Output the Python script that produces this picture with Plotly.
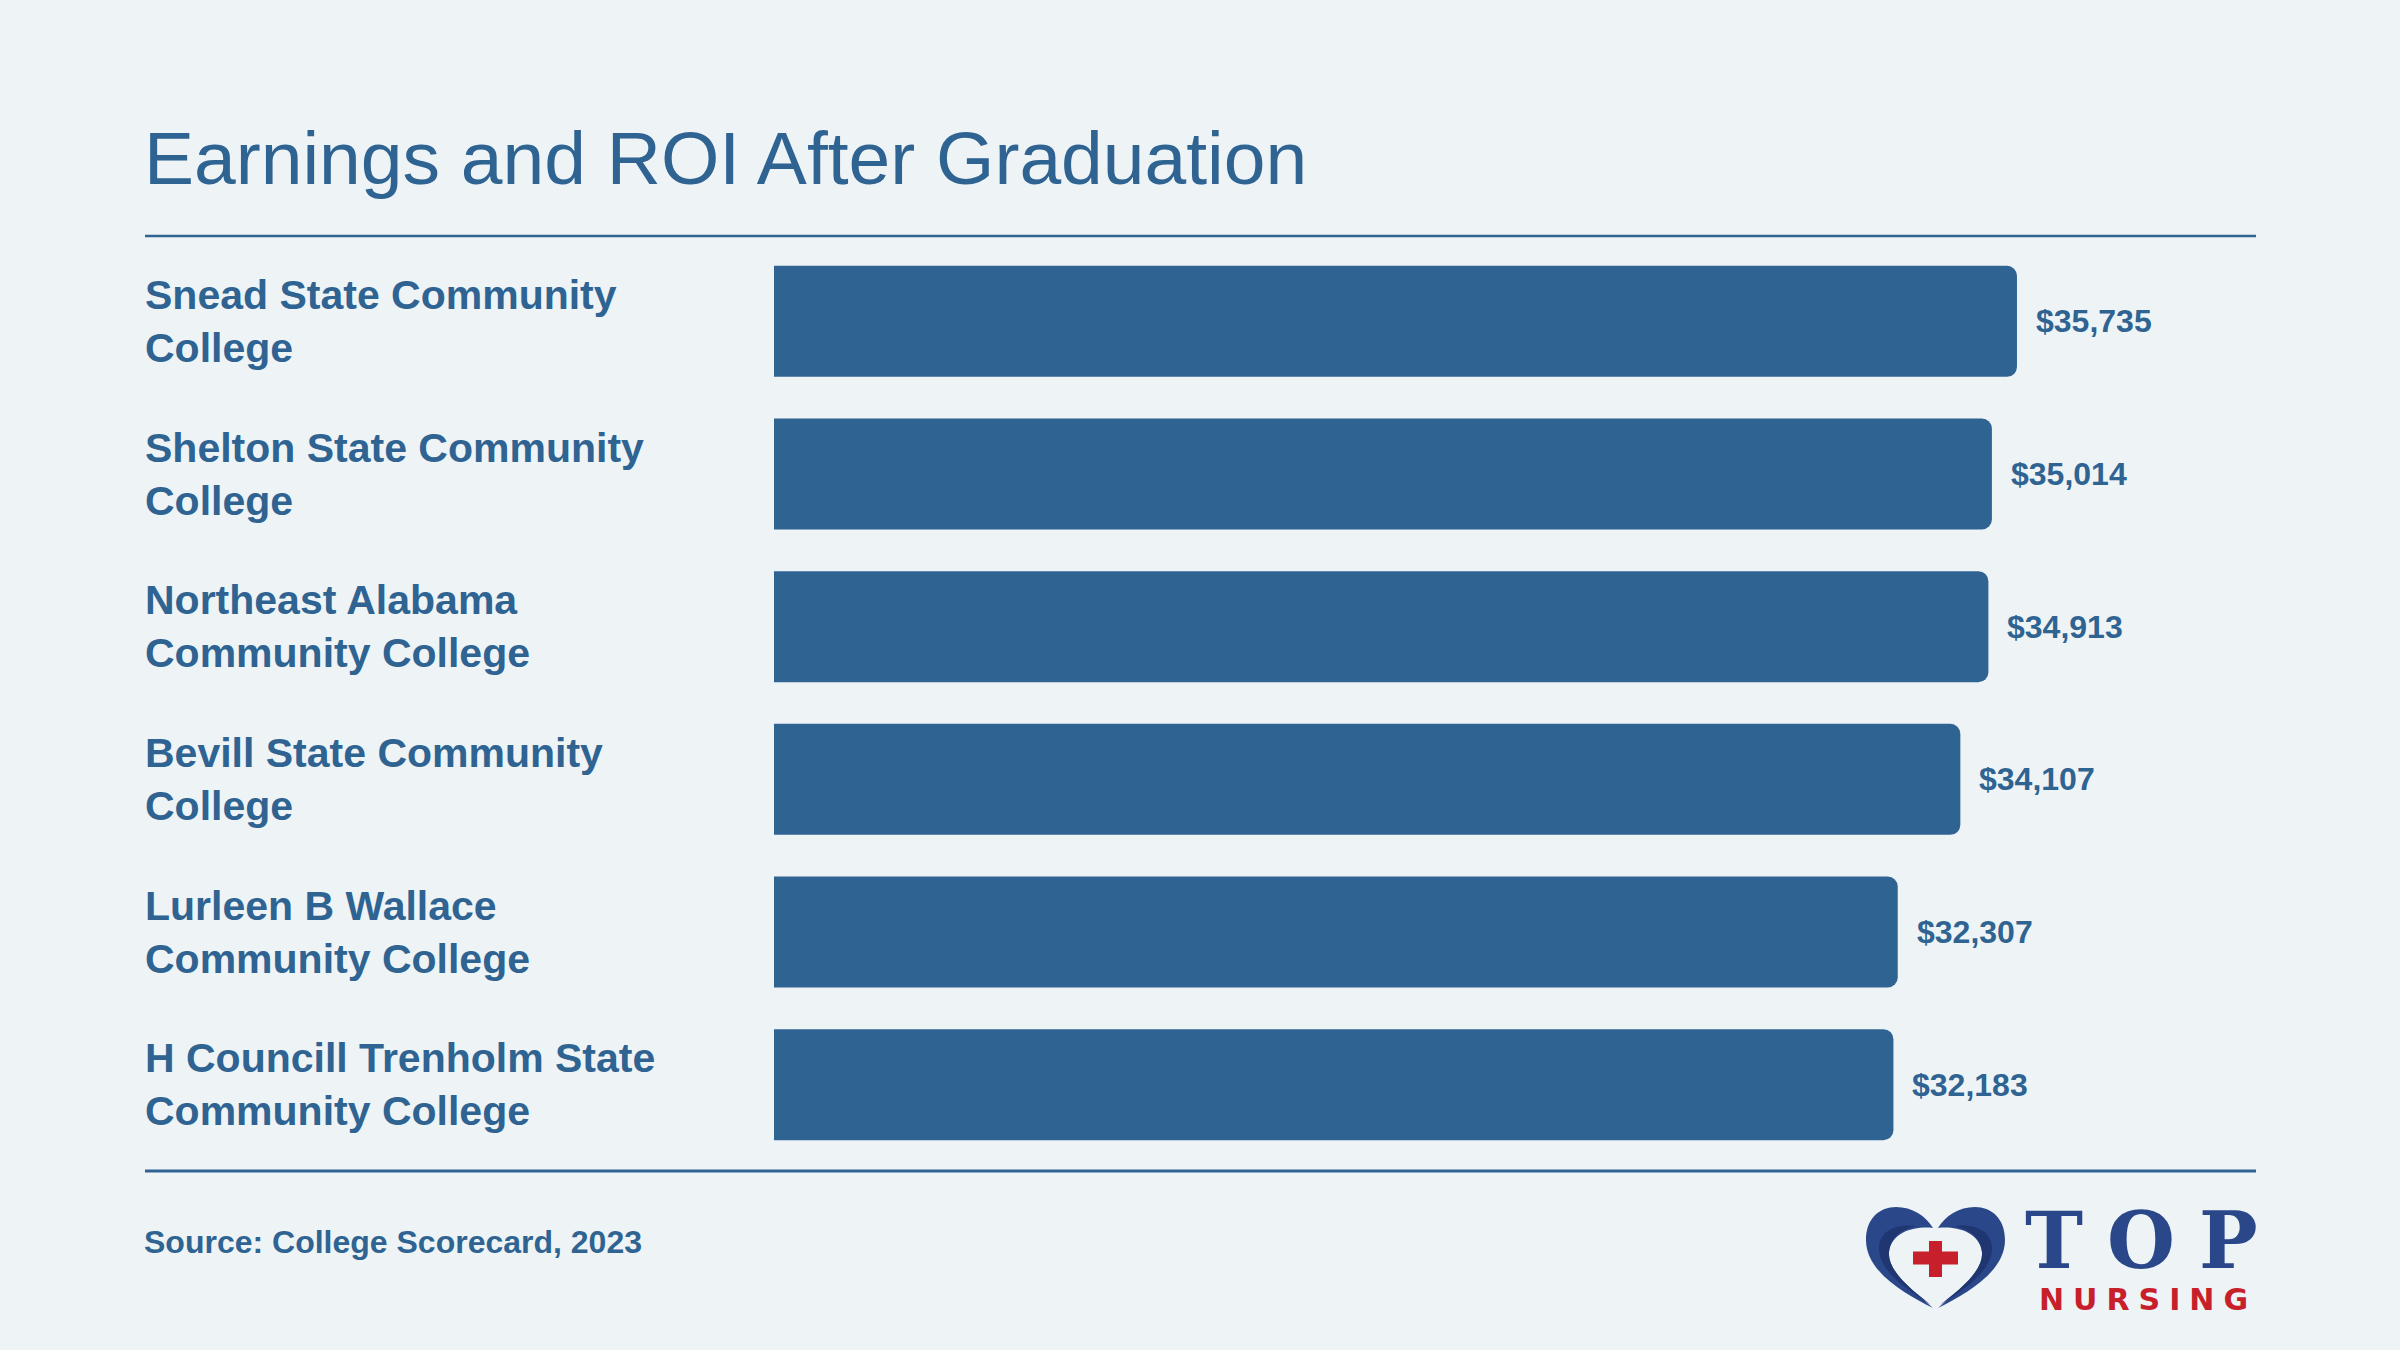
import plotly.graph_objects as go

# ---------------- data ----------------
colleges = [
    "Snead State Community<br>College",
    "Shelton State Community<br>College",
    "Northeast Alabama<br>Community College",
    "Bevill State Community<br>College",
    "Lurleen B Wallace<br>Community College",
    "H Councill Trenholm State<br>Community College",
]
earnings = [35735, 35014, 34913, 34107, 32307, 32183]
title_text = "Earnings and ROI After Graduation"
source_text = "Source: College Scorecard, 2023"

# ---------------- style ----------------
BLUE = "#2E6392"
BG = "#EEF3F6"
NAVY = "#2A478A"
NAVY_DARK = "#1F3670"
RED = "#C8202A"
W, H = 2400, 1350
ML, MR, MT, MB = 774, 144, 245, 189
PW, PH = W - ML - MR, H - MT - MB
X_MAX = 42607


def px(x):
    return (x - ML) / PW


def py(y):
    return (H - MB - y) / PH


def path(cmds):
    out = []
    for c in cmds:
        if isinstance(c, str):
            out.append(c)
        else:
            out.append(f"{px(c[0]):.5f},{py(c[1]):.5f}")
    return " ".join(out)


fig = go.Figure()
fig.add_trace(go.Bar(
    x=earnings,
    y=colleges,
    orientation="h",
    marker=dict(color=BLUE, cornerradius=10, line=dict(width=0)),
    hoverinfo="skip",
))

annotations = []
# category labels (left aligned)
for c in colleges:
    annotations.append(dict(
        x=px(143), xref="paper", y=c, yref="y", text=c,
        xanchor="left", yanchor="middle", align="left", showarrow=False,
        font=dict(family="Liberation Sans, Arial, sans-serif", size=41, color=BLUE, weight="bold"),
    ))
# value labels
for c, v in zip(colleges, earnings):
    annotations.append(dict(
        x=v, xref="x", y=c, yref="y", text=f"${v:,}",
        xanchor="left", yanchor="middle", xshift=17, showarrow=False,
        font=dict(family="Liberation Sans, Arial, sans-serif", size=32, color=BLUE, weight="bold"),
    ))
# title
annotations.append(dict(
    x=px(142), xref="paper", y=py(158), yref="paper", text=title_text,
    xanchor="left", yanchor="middle", showarrow=False,
    font=dict(family="Liberation Sans, Arial, sans-serif", size=75, color=BLUE),
))
# source
annotations.append(dict(
    x=px(142), xref="paper", y=py(1242), yref="paper", text=source_text,
    xanchor="left", yanchor="middle", showarrow=False,
    font=dict(family="Liberation Sans, Arial, sans-serif", size=32, color=BLUE, weight="bold"),
))
# logo text
annotations.append(dict(
    x=px(2153), xref="paper", y=py(1240), yref="paper",
    text='<span style="letter-spacing:24px">TOP</span>',
    xanchor="center", yanchor="middle", showarrow=False,
    font=dict(family="DejaVu Serif, serif", size=78, color=NAVY, weight="bold"),
))
annotations.append(dict(
    x=px(2148), xref="paper", y=py(1299), yref="paper",
    text='<span style="letter-spacing:9px">NURSING</span>',
    xanchor="center", yanchor="middle", showarrow=False,
    font=dict(family="DejaVu Sans, sans-serif", size=30, color=RED, weight="bold"),
))

shapes = []
# rules
shapes.append(dict(type="line", xref="paper", yref="paper",
                   x0=px(145), x1=px(2256), y0=py(236), y1=py(236),
                   line=dict(color=BLUE, width=2.5)))
shapes.append(dict(type="line", xref="paper", yref="paper",
                   x0=px(145), x1=px(2256), y0=py(1171), y1=py(1171),
                   line=dict(color=BLUE, width=3)))

# heart (logo): two crescent halves
CX2 = 3871  # 2 * centre x
left_half = [
    "M", (1933, 1308),
    "C", (1905, 1294), (1866, 1272), (1866, 1240),
    "C", (1866, 1218), (1880, 1207), (1896, 1207),
    "C", (1912, 1207), (1926, 1216), (1933, 1228),
    "C", (1918, 1226), (1892, 1230), (1889, 1252),
    "C", (1887, 1272), (1915, 1292), (1933, 1308), "Z",
]
left_inner = [
    "M", (1931, 1305),
    "C", (1908, 1290), (1879, 1272), (1879, 1248),
    "C", (1879, 1232), (1895, 1223), (1916, 1226),
    "C", (1900, 1230), (1890, 1238), (1889, 1252),
    "C", (1887, 1272), (1915, 1292), (1931, 1305), "Z",
]


def mirror(cmds):
    return [c if isinstance(c, str) else (CX2 - c[0], c[1]) for c in cmds]


for half in (left_half, mirror(left_half)):
    shapes.append(dict(type="path", xref="paper", yref="paper", path=path(half),
                       fillcolor=NAVY, line=dict(width=0)))
for half in (left_inner, mirror(left_inner)):
    shapes.append(dict(type="path", xref="paper", yref="paper", path=path(half),
                       fillcolor=NAVY_DARK, line=dict(width=0)))
# cross
shapes.append(dict(type="rect", xref="paper", yref="paper",
                   x0=px(1913), x1=px(1958), y0=py(1251.5), y1=py(1264.5),
                   fillcolor=RED, line=dict(width=0)))
shapes.append(dict(type="rect", xref="paper", yref="paper",
                   x0=px(1929), x1=px(1942), y0=py(1241), y1=py(1277),
                   fillcolor=RED, line=dict(width=0)))

fig.update_layout(
    width=W, height=H,
    margin=dict(l=ML, r=MR, t=MT, b=MB, pad=0),
    paper_bgcolor=BG, plot_bgcolor=BG,
    showlegend=False,
    bargap=0.273,
    xaxis=dict(range=[0, X_MAX], visible=False, fixedrange=True),
    yaxis=dict(autorange="reversed", visible=False, fixedrange=True),
    annotations=annotations,
    shapes=shapes,
)

fig.write_html("out.html", config={"displayModeBar": False})
